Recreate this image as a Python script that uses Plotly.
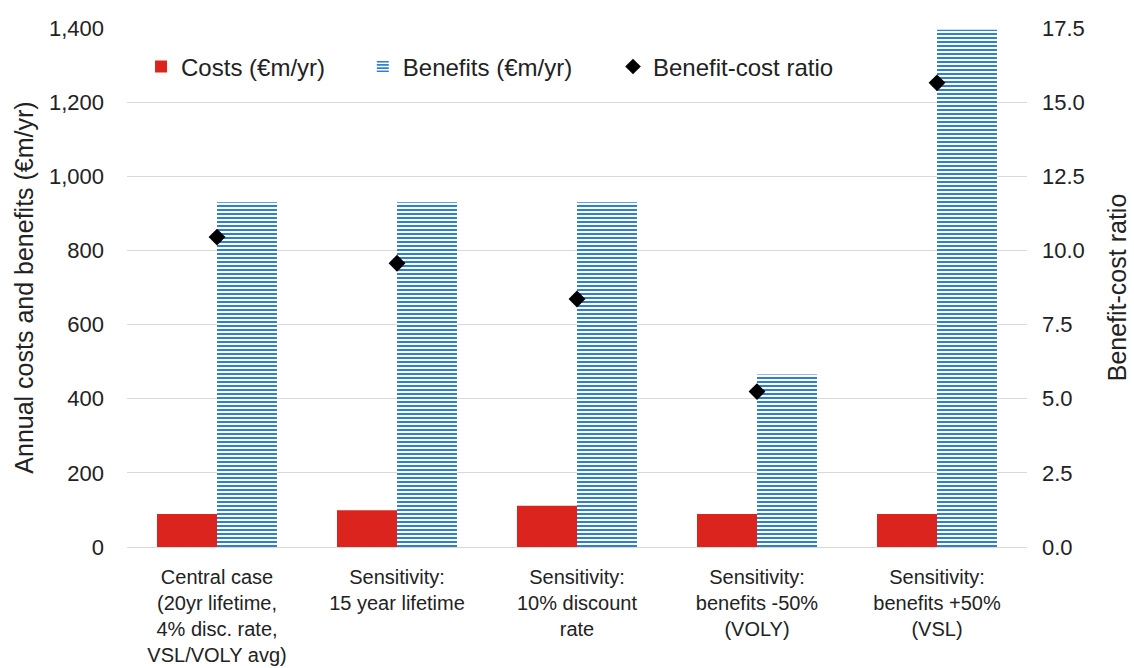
import plotly.graph_objects as go

categories = [
    "Central case<br>(20yr lifetime,<br>4% disc. rate,<br>VSL/VOLY avg)",
    "Sensitivity:<br>15 year lifetime",
    "Sensitivity:<br>10% discount<br>rate",
    "Sensitivity:<br>benefits -50%<br>(VOLY)",
    "Sensitivity:<br>benefits +50%<br>(VSL)",
]
costs = [89, 99, 111, 89, 89]
benefits = [930, 930, 930, 465, 1395]
ratio = [10.45, 9.57, 8.36, 5.24, 15.65]

FONT = "Liberation Sans, Arial, sans-serif"

fig = go.Figure()
fig.add_trace(go.Bar(
    x=categories, y=costs, name="Costs (€m/yr)", legend="legend",
    marker=dict(color="#dc241f", line=dict(width=0)),
))
fig.add_trace(go.Bar(
    x=categories, y=benefits, name="Benefits (€m/yr)", legend="legend2",
    marker=dict(color="white", line=dict(width=0),
                pattern=dict(shape="-", fgcolor="#2e7fcf", bgcolor="white",
                             size=4, solidity=0.5, fillmode="replace")),
))
fig.add_trace(go.Scatter(
    x=categories, y=ratio, name="Benefit-cost ratio", yaxis="y2", legend="legend3",
    mode="markers",
    marker=dict(symbol="diamond", color="black", size=13),
))

leg_common = dict(orientation="h", y=0.925, xanchor="left", yanchor="middle",
                  bgcolor="rgba(0,0,0,0)", font=dict(size=24), itemsizing="constant")

fig.update_layout(
    width=1134, height=668,
    margin=dict(l=127, r=107, t=28, b=121),
    paper_bgcolor="white", plot_bgcolor="white",
    font=dict(family=FONT, size=22, color="#222222"),
    barmode="group", bargap=1/3, bargroupgap=0,
    showlegend=True,
    legend=dict(x=0.0156, **leg_common),
    legend2=dict(x=0.262, **leg_common),
    legend3=dict(x=0.54, **leg_common),
    xaxis=dict(showline=True, linecolor="#d9d9d9", linewidth=1,
               showgrid=False, ticks="", tickfont=dict(size=20),
               ticklabelstandoff=12, automargin=False),
    yaxis=dict(range=[0, 1400], dtick=200, tickformat=",",
               showgrid=True, gridcolor="#d9d9d9", zeroline=False,
               title=dict(text="Annual costs and benefits (€m/yr)", font=dict(size=25), standoff=8),
               ticks="", ticklabelstandoff=22, automargin=False),
    yaxis2=dict(range=[0, 17.5], dtick=2.5, tickformat=".1f", overlaying="y",
                side="right", showgrid=False, zeroline=False,
                title=dict(text="Benefit-cost ratio", font=dict(size=25), standoff=24),
                ticks="", ticklabelstandoff=14, automargin=False),
)

fig.write_html("out.html")
